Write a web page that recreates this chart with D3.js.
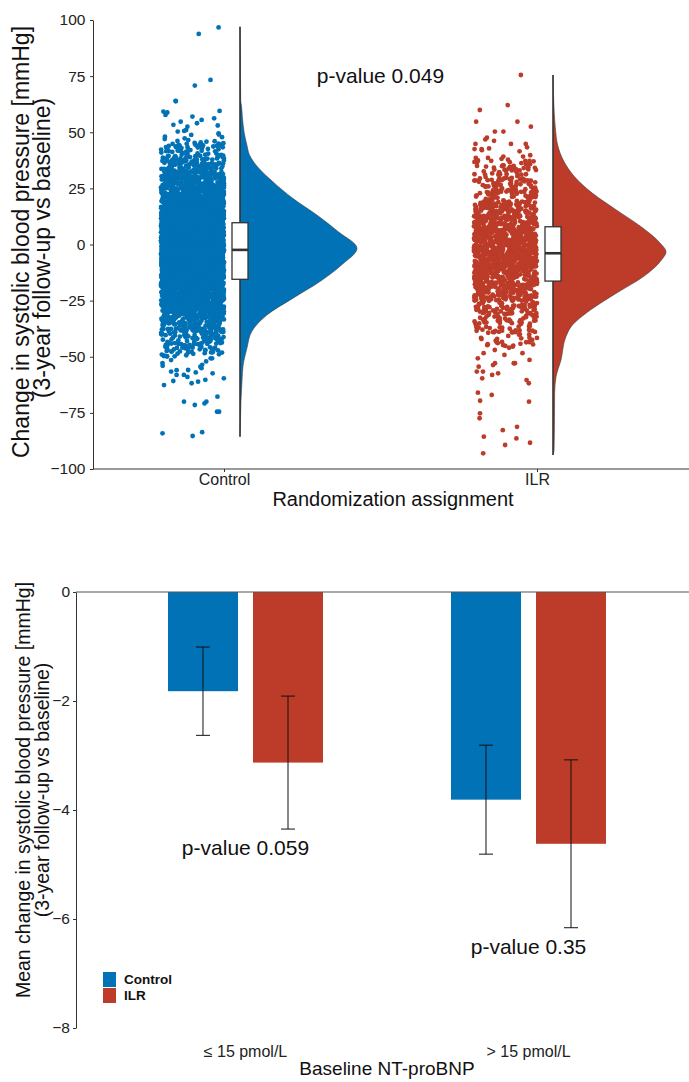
<!DOCTYPE html>
<html>
<head>
<meta charset="utf-8">
<script src="https://cdn.jsdelivr.net/npm/d3@7"></script>
<style>
body { margin: 0; background: #fff; }
svg { display: block; font-family: "Liberation Sans", Arial, sans-serif; }
</style>
</head>
<body>
<div id="chart"></div>
<script>
var colors = ["#0072B5", "#BC3C29"];   // Control, ILR
var groups = ["Control", "ILR"];

// ---- top panel data (change in SBP, mmHg) ----
// dense part of each cloud: patients per 5 mmHg bin, bin lower edges
var control_bins   = [-50, -45, -40, -35, -30, -25, -20, -15, -10, -5, 0, 5, 10, 15, 20, 25, 30, 35, 40];
var control_counts = [40, 60, 90, 130, 190, 270, 360, 430, 500, 550, 510, 440, 370, 290, 220, 160, 120, 80, 48];
var ilr_bins       = [-45, -40, -35, -30, -25, -20, -15, -10, -5, 0, 5, 10, 15, 20, 25, 30, 35];
var ilr_counts     = [22, 34, 48, 64, 91, 119, 144, 165, 174, 158, 137, 109, 87, 63, 48, 34, 22];
// sparse points outside the bins
var control_outliers = [96.7, 93.8, 73.3, 70.8, 64.0, 63.8, 59.5, 59.2, 58.8, 57.7, 57.0, 56.2, 55.5, 54.7, 54.0,
    53.3, 53.0, 52.5, 51.0, 50.6, 50.3, 49.5, 49.0, 48.8, 48.0, 47.8, 47.3, 47.0, 46.5, 46.1, 46.0, 45.8, 45.5, 45.3, 45.1,
    -50.7, -50.7, -51.5, -52.1, -52.8, -53.6, -54.0, -54.4, -55.1, -55.9, -56.0, -56.6, -57.0, -57.4, -58.1, -58.1,
    -59.0, -59.6, -60.3, -60.8, -61.1, -61.8, -62.6, -67.8, -70.0, -70.0, -70.8, -71.5, -74.5, -74.5, -83.6, -84.1, -85.3];
var ilr_outliers = [75.5, 62.1, 59.9, 54.7, 54.7, 52.5, 50.3, 50.3, 47.6, 46.8, 46.2, 44.8, 44.8, 44.8, 43.3, 42.8,
    42.5, 42.5, 42.0, 41.5,
    -45.0, -45.2, -45.5, -46.0, -47.0, -48.4, -48.4, -49.2, -50.7, -51.4, -52.9, -52.9, -52.9, -53.7, -54.4, -56.6,
    -56.6, -57.4, -58.1, -59.6, -60.4, -61.8, -66.0, -67.0, -69.6, -70.0, -75.2, -77.4, -81.2, -82.7, -85.6, -86.4,
    -88.3, -89.3, -93.0];
// half-violin outline (value, relative density)
var control_violin_v = [97, 85, 75, 64, 62, 57, 50, 44, 40, 34, 28, 20.6, 13, 5.7, -1.7, -9, -16.6, -24, -31.4, -38.8, -46, -54, -61, -70, -78, -85.6];
var control_violin_d = [0, 0.003, 0.004, 0.006, 0.012, 0.02, 0.035, 0.06, 0.08, 0.16, 0.28, 0.45, 0.66, 0.84, 1.0, 0.87, 0.68, 0.45, 0.23, 0.10, 0.06, 0.026, 0.017, 0.008, 0.004, 0];
var ilr_violin_v = [75.5, 64, 52.5, 43.6, 37.6, 30.2, 22.8, 15.4, 7.9, 0.5, -3.2, -6.9, -14.3, -21.7, -29.2, -36.6, -41, -51.4, -58.9, -66.3, -81.2, -91.5, -93.8];
var ilr_violin_d = [0, 0.006, 0.019, 0.043, 0.087, 0.184, 0.338, 0.541, 0.753, 0.918, 0.966, 0.927, 0.773, 0.541, 0.319, 0.155, 0.111, 0.068, 0.026, 0.014, 0.012, 0.009, 0];
// box: q1, median, q3
var control_box = [-15.5, -2.4, 9.7];
var ilr_box = [-16.3, -3.9, 7.9];
var top_ticks = [-100, -75, -50, -25, 0, 25, 50, 75, 100];

// ---- bottom panel data (mean change, mmHg) ----
var nt_groups = ["\u2264 15 pmol/L", "> 15 pmol/L"];
var control_mean = [-1.82, -3.81];
var control_err = [0.81, 1.00];
var ilr_mean = [-3.13, -4.62];
var ilr_err = [1.22, 1.54];
var nt_pvalues = ["p-value 0.059", "p-value 0.35"];
var bottom_ticks = [0, -2, -4, -6, -8];

var W = 689, H = 1082;
var svg = d3.select("#chart")
    .append("svg")
    .attr("width", W)
    .attr("height", H);

// =================== top panel ===================
var tp = {left: 93, right: 689, top: 20, bottom: 469};
var y1 = d3.scaleLinear().domain([-100, 100]).range([tp.bottom, tp.top]);
var x1 = d3.scalePoint().domain(groups).range([224, 537]);
var wScale = d3.scaleLinear().domain([0, 1]).range([0, 117]);

// deterministic jitter in [0,1) (integer hash)
function jit(i, s) {
    var h = Math.imul(i + 1, 0x9E3779B1) ^ Math.imul(s + 7, 0x85EBCA6B);
    h ^= h >>> 15;
    h = Math.imul(h, 0x2C1B3C6D);
    h ^= h >>> 12;
    h = Math.imul(h, 0x297A2D39);
    h ^= h >>> 15;
    return (h >>> 0) / 4294967296;
}

// spread each bin's patients through the bin, jitter sideways
function cloud(bins, counts, outliers, seed) {
    var pts = [], i = 0;
    bins.forEach(function(b, k) {
        for (var j = 0; j < counts[k]; j++) {
            pts.push({v: b + 5 * jit(i, seed + 1), jx: jit(i, seed)});
            i++;
        }
    });
    outliers.forEach(function(v) {
        pts.push({v: v, jx: jit(i, seed)});
        i++;
    });
    return pts;
}

var panels = [
    {g: "Control", pts: cloud(control_bins, control_counts, control_outliers, 3),
     vv: control_violin_v, vd: control_violin_d, box: control_box},
    {g: "ILR", pts: cloud(ilr_bins, ilr_counts, ilr_outliers, 11),
     vv: ilr_violin_v, vd: ilr_violin_d, box: ilr_box}
];

panels.forEach(function(p, gi) {
    var cx = x1(p.g);
    var base = cx + 16;
    var col = colors[gi];

    // rain
    svg.append("g").selectAll("circle")
        .data(p.pts)
        .enter()
        .append("circle")
        .attr("cx", function(d) { return cx - 63 + 63 * d.jx; })
        .attr("cy", function(d) { return y1(d.v); })
        .attr("r", 2.4)
        .attr("fill", col);

    // half violin
    var vio = p.vv.map(function(v, k) { return {v: v, d: p.vd[k]}; });
    var area = d3.area()
        .curve(d3.curveMonotoneY)
        .y(function(d) { return y1(d.v); })
        .x0(base)
        .x1(function(d) { return base + wScale(d.d); });
    svg.append("path")
        .datum(vio)
        .attr("d", area)
        .attr("fill", col)
        .attr("stroke", "#3a3a3a")
        .attr("stroke-width", 0.6);
    svg.append("line")
        .attr("x1", base).attr("x2", base)
        .attr("y1", y1(d3.max(p.vv))).attr("y2", y1(d3.min(p.vv)))
        .attr("stroke", "#333")
        .attr("stroke-width", 1.4);

    // box
    svg.append("rect")
        .attr("x", base - 8)
        .attr("width", 16)
        .attr("y", y1(p.box[2]))
        .attr("height", y1(p.box[0]) - y1(p.box[2]))
        .attr("fill", "#fff")
        .attr("stroke", "#333")
        .attr("stroke-width", 1.3);
    svg.append("line")
        .attr("x1", base - 8).attr("x2", base + 8)
        .attr("y1", y1(p.box[1])).attr("y2", y1(p.box[1]))
        .attr("stroke", "#333")
        .attr("stroke-width", 2.6);
});

// axes
var yAxisTop = svg.append("g")
    .attr("transform", "translate(" + tp.left + ",0)")
    .call(d3.axisLeft(y1).tickValues(top_ticks).tickSize(3).tickSizeOuter(0));
yAxisTop.selectAll("text").attr("font-size", 15.5).attr("fill", "#222").attr("dx", "-0.1em");
yAxisTop.select(".domain").attr("stroke", "#333");
yAxisTop.selectAll(".tick line").attr("stroke", "#333");

svg.append("line")
    .attr("x1", tp.left).attr("x2", tp.right)
    .attr("y1", tp.bottom).attr("y2", tp.bottom)
    .attr("stroke", "#333");
var xAxisTop = svg.append("g")
    .attr("transform", "translate(0," + tp.bottom + ")")
    .call(d3.axisBottom(x1).tickSize(3));
xAxisTop.select(".domain").remove();
xAxisTop.selectAll(".tick line").attr("stroke", "#333");
xAxisTop.selectAll("text").attr("font-size", 16).attr("fill", "#222").attr("dy", "0.62em");

svg.append("text")
    .attr("x", 393).attr("y", 506)
    .attr("text-anchor", "middle")
    .attr("font-size", 20)
    .attr("fill", "#111")
    .text("Randomization assignment");

svg.append("text")
    .attr("transform", "translate(29,242) rotate(-90)")
    .attr("text-anchor", "middle")
    .attr("font-size", 23)
    .attr("fill", "#111")
    .text("Change in systolic blood pressure [mmHg]");
svg.append("text")
    .attr("transform", "translate(50,248) rotate(-90)")
    .attr("text-anchor", "middle")
    .attr("font-size", 23)
    .attr("fill", "#111")
    .text("(3-year follow-up vs baseline)");

svg.append("text")
    .attr("x", (x1("Control") + x1("ILR")) / 2)
    .attr("y", y1(72))
    .attr("text-anchor", "middle")
    .attr("font-size", 21)
    .attr("fill", "#111")
    .text("p-value 0.049");

// =================== bottom panel ===================
var bot = {left: 76, right: 689, top: 592, bottom: 1028};
var y2 = d3.scaleLinear().domain([-8, 0]).range([bot.bottom, bot.top]);
var x2 = d3.scaleBand().domain(nt_groups).range([104, 670]);
var xArm = d3.scaleBand()
    .domain(groups)
    .range([x2.bandwidth() / 2 - 77.5, x2.bandwidth() / 2 + 77.5])
    .paddingInner(0.1765);

var bars = [];
nt_groups.forEach(function(g, k) {
    bars.push({g: g, arm: "Control", mean: control_mean[k], err: control_err[k], col: colors[0]});
    bars.push({g: g, arm: "ILR", mean: ilr_mean[k], err: ilr_err[k], col: colors[1]});
});

svg.append("g").selectAll("rect")
    .data(bars)
    .enter()
    .append("rect")
    .attr("x", function(d) { return x2(d.g) + xArm(d.arm); })
    .attr("y", y2(0))
    .attr("width", xArm.bandwidth())
    .attr("height", function(d) { return y2(d.mean) - y2(0); })
    .attr("fill", function(d) { return d.col; });

var eb = svg.append("g").selectAll("g")
    .data(bars)
    .enter()
    .append("g")
    .attr("stroke", "#111")
    .attr("stroke-width", 1);
function bx(d) { return x2(d.g) + xArm(d.arm) + xArm.bandwidth() / 2; }
eb.append("line")
    .attr("x1", bx).attr("x2", bx)
    .attr("y1", function(d) { return y2(d.mean + d.err); })
    .attr("y2", function(d) { return y2(d.mean - d.err); });
eb.append("line")
    .attr("x1", function(d) { return bx(d) - 7; }).attr("x2", function(d) { return bx(d) + 7; })
    .attr("y1", function(d) { return y2(d.mean + d.err); })
    .attr("y2", function(d) { return y2(d.mean + d.err); });
eb.append("line")
    .attr("x1", function(d) { return bx(d) - 7; }).attr("x2", function(d) { return bx(d) + 7; })
    .attr("y1", function(d) { return y2(d.mean - d.err); })
    .attr("y2", function(d) { return y2(d.mean - d.err); });

// zero line
svg.append("line")
    .attr("x1", bot.left).attr("x2", bot.right)
    .attr("y1", y2(0)).attr("y2", y2(0))
    .attr("stroke", "#555");

var yAxisBot = svg.append("g")
    .attr("transform", "translate(" + bot.left + ",0)")
    .call(d3.axisLeft(y2).tickValues(bottom_ticks).tickSize(3).tickSizeOuter(0));
yAxisBot.selectAll("text").attr("font-size", 15.5).attr("fill", "#222");
yAxisBot.select(".domain").attr("stroke", "#333");
yAxisBot.selectAll(".tick line").attr("stroke", "#333");

// p-values under the ILR error bars
svg.append("g").selectAll("text")
    .data(nt_groups)
    .enter()
    .append("text")
    .attr("x", function(g) { return x2(g) + x2.bandwidth() / 2; })
    .attr("y", function(g, k) { return y2(ilr_mean[k] - ilr_err[k]) + 26; })
    .attr("text-anchor", "middle")
    .attr("font-size", 21)
    .attr("fill", "#111")
    .text(function(g, k) { return nt_pvalues[k]; });

// category labels
svg.append("g").selectAll("text")
    .data(nt_groups)
    .enter()
    .append("text")
    .attr("x", function(g) { return x2(g) + x2.bandwidth() / 2; })
    .attr("y", 1057)
    .attr("text-anchor", "middle")
    .attr("font-size", 16)
    .attr("fill", "#222")
    .text(function(g) { return g; });

svg.append("text")
    .attr("x", 387).attr("y", 1075)
    .attr("text-anchor", "middle")
    .attr("font-size", 19)
    .attr("fill", "#111")
    .text("Baseline NT-proBNP");

svg.append("text")
    .attr("transform", "translate(30,790) rotate(-90)")
    .attr("text-anchor", "middle")
    .attr("font-size", 19.5)
    .attr("fill", "#111")
    .text("Mean change in systolic blood pressure [mmHg]");
svg.append("text")
    .attr("transform", "translate(49,790) rotate(-90)")
    .attr("text-anchor", "middle")
    .attr("font-size", 19.5)
    .attr("fill", "#111")
    .text("(3-year follow-up vs baseline)");

// legend
var leg = svg.append("g").attr("transform", "translate(103,972)");
groups.forEach(function(g, i) {
    leg.append("rect")
        .attr("x", 0).attr("y", i * 16)
        .attr("width", 13).attr("height", 15)
        .attr("fill", colors[i]);
    leg.append("text")
        .attr("x", 21).attr("y", i * 16 + 12)
        .attr("font-size", 13.5)
        .attr("font-weight", "bold")
        .attr("fill", "#111")
        .text(g);
});
</script>
</body>
</html>
